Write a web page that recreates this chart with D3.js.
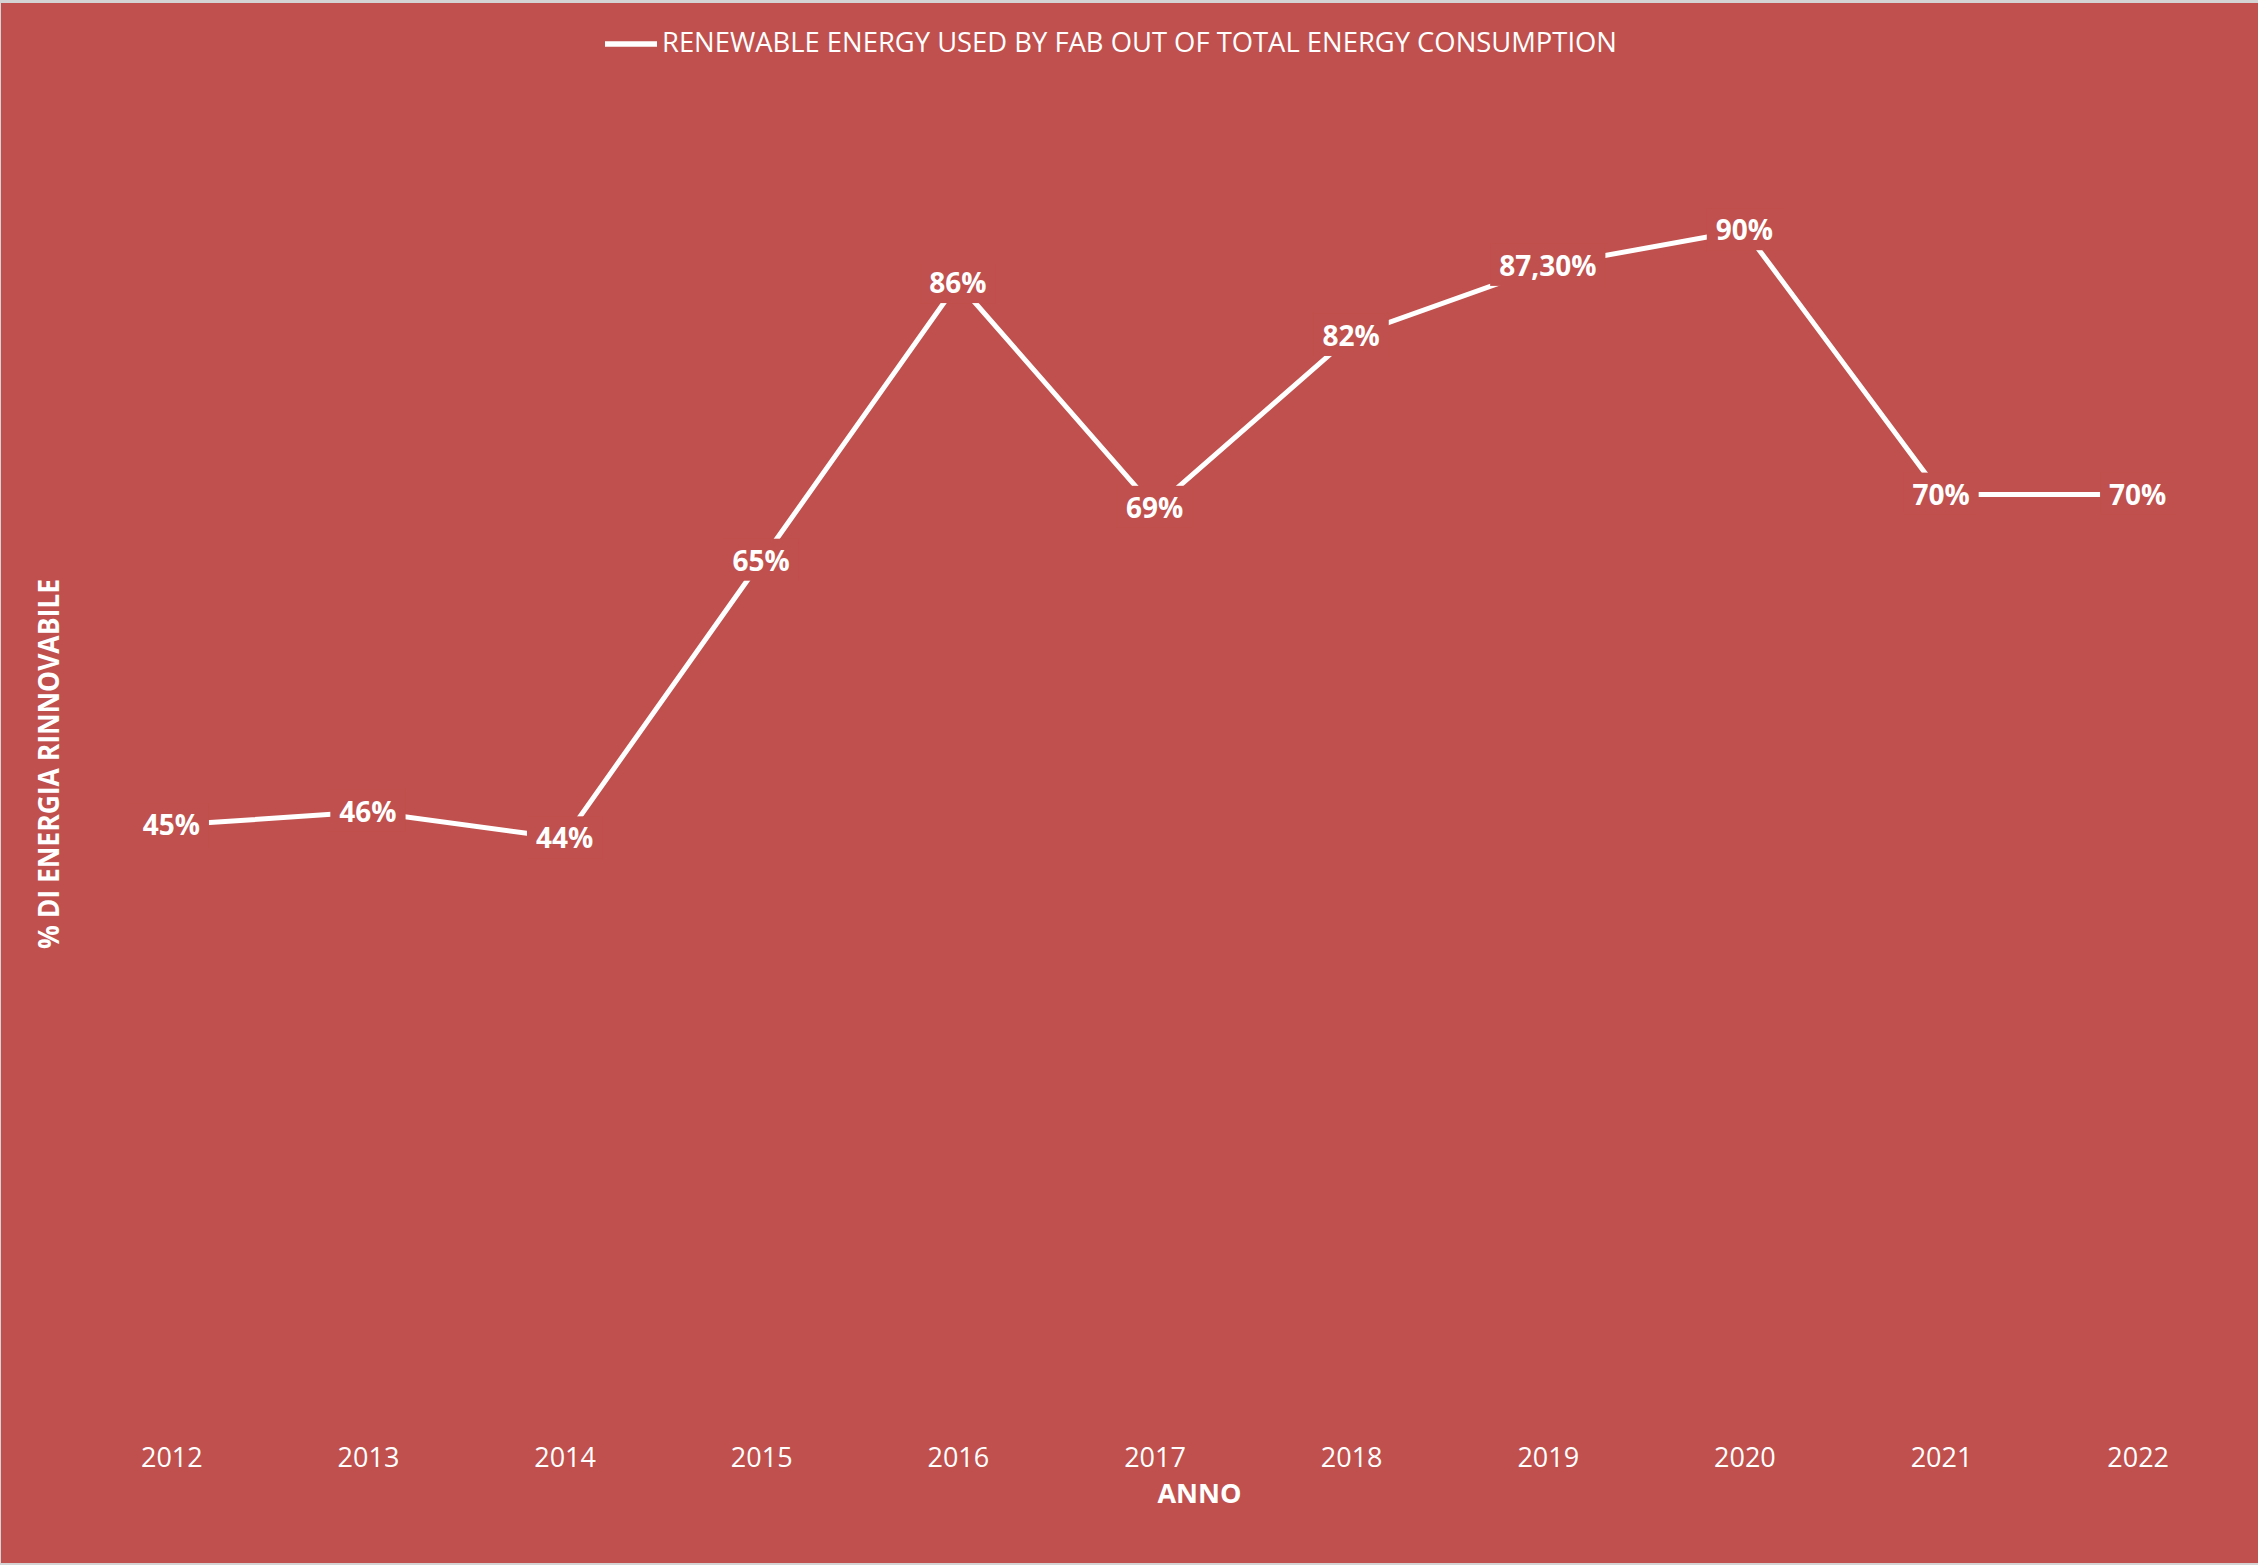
<!DOCTYPE html>
<html>
<head>
<meta charset="utf-8">
<script src="https://cdn.jsdelivr.net/npm/d3@7"></script>
<style>
  html, body { margin: 0; padding: 0; background: #d4d4d4; }
  svg { display: block; }
</style>
</head>
<body>
<svg id="chart" width="2258" height="1565"></svg>
<script>
// ---- data ----
const years = ["2012","2013","2014","2015","2016","2017","2018","2019","2020","2021","2022"];
const renewableShare = [0.45, 0.46, 0.44, 0.65, 0.86, 0.69, 0.82, 0.873, 0.90, 0.70, 0.70];
const valueLabels = ["45%","46%","44%","65%","86%","69%","82%","87,30%","90%","70%","70%"];
const seriesName = "RENEWABLE ENERGY USED BY FAB OUT OF TOTAL ENERGY CONSUMPTION";
const xTitle = "ANNO";
const yTitle = "% DI ENERGIA RINNOVABILE";

// ---- layout ----
const W = 2258, H = 1565;
const bg = "#C0504D";
const plot = { left: 73, right: 2236, top: 98, bottom: 1420 };

const svg = d3.select("#chart");

// background / chart area
svg.append("rect")
  .attr("x", 1).attr("y", 3)
  .attr("width", W - 1).attr("height", H - 5)
  .attr("fill", bg);

const x = d3.scalePoint().domain(years).range([plot.left, plot.right]).padding(0.5);
const y = d3.scaleLinear().domain([0, 1]).range([plot.bottom, plot.top]);

const data = years.map((yr, i) => ({ year: yr, value: renewableShare[i], label: valueLabels[i] }));

// x axis (labels only)
const xAxis = svg.append("g")
  .attr("transform", `translate(0,${plot.bottom})`)
  .call(d3.axisBottom(x).tickSize(0));
xAxis.select(".domain").remove();
xAxis.selectAll("text")
  .attr("y", 47).attr("dy", 0)
  .attr("fill", "#ffffff")
  .attr("font-family", "'Open Sans', sans-serif")
  .attr("font-size", 27);

// line
const line = d3.line().x(d => x(d.year)).y(d => y(d.value));
svg.append("path")
  .datum(data)
  .attr("d", line)
  .attr("fill", "none")
  .attr("stroke", "#ffffff")
  .attr("stroke-width", 5)
  .attr("stroke-linejoin", "miter");

// data labels with background boxes
const lbl = svg.append("g").selectAll("g").data(data).join("g")
  .attr("transform", d => `translate(${x(d.year)},${y(d.value)})`);
lbl.append("text")
  .attr("text-anchor", "middle")
  .attr("y", 10)
  .attr("fill", "#ffffff")
  .attr("font-family", "'Open Sans', sans-serif")
  .attr("font-weight", "bold")
  .attr("font-size", 28)
  .text(d => d.label);
lbl.each(function() {
  const g = d3.select(this);
  const bb = g.select("text").node().getBBox();
  g.insert("rect", "text")
    .attr("x", bb.x - 9).attr("y", bb.y - 2)
    .attr("width", bb.width + 18).attr("height", bb.height + 4)
    .attr("fill", bg);
});

// legend
const legend = svg.append("g");
legend.append("line")
  .attr("x1", 605).attr("x2", 657)
  .attr("y1", 44).attr("y2", 44)
  .attr("stroke", "#ffffff").attr("stroke-width", 5.5);
legend.append("text")
  .attr("x", 662).attr("y", 52)
  .attr("fill", "#ffffff")
  .attr("font-family", "'Open Sans', sans-serif")
  .attr("font-size", 27)
  .attr("textLength", 955)
  .attr("lengthAdjust", "spacingAndGlyphs")
  .text(seriesName);

// axis titles
svg.append("text")
  .attr("x", (plot.left + plot.right) / 2 + 45).attr("y", 1503)
  .attr("text-anchor", "middle")
  .attr("fill", "#ffffff")
  .attr("font-family", "'Open Sans', sans-serif")
  .attr("font-weight", "bold")
  .attr("font-size", 27)
  .text(xTitle);

svg.append("text")
  .attr("transform", `translate(59,764) rotate(-90)`)
  .attr("text-anchor", "middle")
  .attr("fill", "#ffffff")
  .attr("font-family", "'Open Sans', sans-serif")
  .attr("font-weight", "bold")
  .attr("font-size", 28)
  .attr("textLength", 370)
  .attr("lengthAdjust", "spacingAndGlyphs")
  .text(yTitle);
</script>
</body>
</html>
